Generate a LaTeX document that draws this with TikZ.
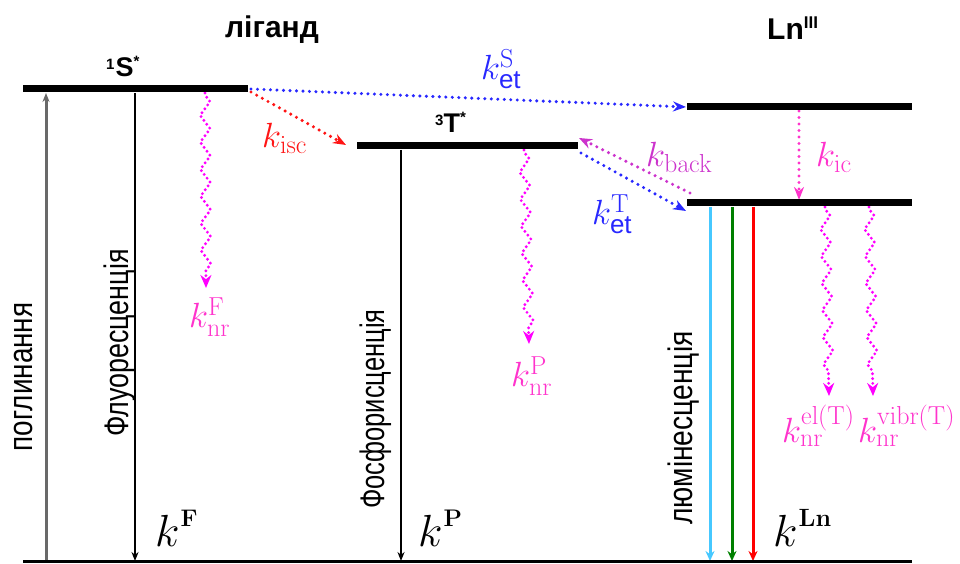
\RequirePackage{fix-cm}
\documentclass[tikz,border=0pt]{standalone}
\usepackage{amsmath}
\usepackage[no-math]{fontspec}
\setmainfont{Liberation Sans}
\usetikzlibrary{arrows.meta,decorations.pathmorphing}
\DeclareMathSizes{35}{35}{26}{18}

\definecolor{wavemag}{RGB}{255,0,255}
\definecolor{pinklab}{RGB}{255,51,204}
\definecolor{backmag}{RGB}{204,51,204}
\definecolor{etblue}{RGB}{40,40,255}
\definecolor{iscred}{RGB}{255,20,20}
\definecolor{cyanline}{RGB}{70,200,255}
\definecolor{greenline}{RGB}{0,128,0}
\definecolor{absgray}{RGB}{105,105,105}

% large rate constant with a bold upright superscript
\newcommand{\bigk}[2][24]{{\fontsize{45}{50}\selectfont$k$}\kern1pt\raisebox{20pt}{\fontsize{#1}{#1}\selectfont$\mathbf{#2}$}}
\newcommand{\smallk}[1]{\fontsize{35}{40}\selectfont$#1$}
\newcommand{\sidetext}[2]{\fontsize{34}{38}\selectfont\scalebox{#1}[1]{#2}}
\newcommand{\upmark}[2]{\raisebox{#1}{\fontsize{15}{15}\selectfont #2}}

\tikzset{
  level/.style={line width=7pt},
  ground/.style={line width=3pt},
  radiative/.style={line width=2pt,-{Stealth[length=9pt,width=7pt]}},
  emission/.style={line width=3pt,-{Stealth[length=10pt,width=9pt]}},
  transfer/.style={line width=3.4pt,line cap=round,dash pattern=on 0pt off 6.5pt,
    -{Stealth[length=13pt,width=10pt]}},
  wavy/.style={wavemag,line width=3.2pt,line cap=round,dash pattern=on 0pt off 4.8pt,
    decorate,decoration={zigzag,segment length=27pt,amplitude=5pt,pre length=2pt,post length=12pt},
    -{Stealth[length=13pt,width=11pt]}},
  klab/.style={inner sep=0pt,anchor=base west},
  title/.style={inner sep=0pt,font=\fontsize{30}{34}\selectfont\bfseries},
  state/.style={inner sep=0pt,anchor=base west,font=\fontsize{27}{30}\selectfont\bfseries},
  vlabel/.style={inner sep=0pt,rotate=90,anchor=base}
}

\begin{document}
\begin{tikzpicture}[x=1pt,y=1pt]
\useasboundingbox (0,0) rectangle (960,564);

% level end points
\coordinate (s1L) at (23,475);  \coordinate (s1R) at (248,475);
\coordinate (t1L) at (357,418); \coordinate (t1R) at (578,418);
\coordinate (luL) at (687,457); \coordinate (luR) at (912,457);
\coordinate (llL) at (687,361); \coordinate (llR) at (912,361);
\coordinate (gL) at (23,2);     \coordinate (gR) at (912,2);

% vertical radiative transitions
\coordinate (absB) at (46,2);   \coordinate (absT) at (46,471);
\coordinate (flT) at (135,471); \coordinate (flB) at (135,3);
\coordinate (phT) at (401,414); \coordinate (phB) at (401,3);
\coordinate (cyT) at (710,357); \coordinate (cyB) at (710,3);
\coordinate (grT) at (732,357); \coordinate (grB) at (732,3);
\coordinate (rdT) at (753,357); \coordinate (rdB) at (753,3);

\draw[radiative,absgray,line width=3pt] (absB) -- (absT);
\draw[radiative] (flT) -- (flB);
\draw[radiative] (phT) -- (phB);
\draw[emission,cyanline] (cyT) -- (cyB);
\draw[emission,greenline] (grT) -- (grB);
\draw[emission,red] (rdT) -- (rdB);

% energy transfer paths
\coordinate (iscA) at (251,472); \coordinate (iscB) at (346,419);
\coordinate (etsA) at (251,475); \coordinate (etsB) at (686,457);
\coordinate (bkA) at (690,371);  \coordinate (bkB) at (579,426);
\coordinate (ettA) at (581,411); \coordinate (ettB) at (686,353);
\coordinate (icA) at (799,453);  \coordinate (icB) at (799,364);

\draw[transfer,iscred] (iscA) -- (iscB);
\draw[transfer,etblue] (etsA) -- (etsB);
\draw[transfer,backmag] (bkA) -- (bkB);
\draw[transfer,etblue] (ettA) -- (ettB);
\draw[transfer,pinklab] (icA) -- (icB);

% non-radiative decays
\coordinate (nfA) at (205,471); \coordinate (nfB) at (206,276);
\coordinate (npA) at (524,414); \coordinate (npB) at (529,220);
\coordinate (neA) at (825,357); \coordinate (neB) at (829,168);
\coordinate (nvA) at (869,357); \coordinate (nvB) at (873,168);

\draw[wavy] (nfA) -- (nfB);
\draw[wavy] (npA) -- (npB);
\draw[wavy] (neA) -- (neB);
\draw[wavy] (nvA) -- (nvB);

% energy levels
\draw[level] (s1L) -- (s1R);
\draw[level] (t1L) -- (t1R);
\draw[level] (luL) -- (luR);
\draw[level] (llL) -- (llR);
\draw[ground] (gL) -- (gR);

% headings and state labels
\node[title] (lig) at (272,534) {ліганд};
\node[title,anchor=base west] (ln) at (767,524) {Ln\raisebox{11pt}{\fontsize{17}{17}\selectfont III}};
\node[state] (s1) at (106,487) {\upmark{7pt}{1}\kern1pt S\upmark{10pt}{*}};
\node[state] (t1) at (435,431) {\upmark{7pt}{3}T\upmark{10pt}{*}};

% transition names
\node[vlabel] (absl) at (32,187) {\sidetext{0.82}{поглинання}};
\node[vlabel] (fll) at (128,221) {\sidetext{0.79}{Флуоресценція}};
\node[vlabel] (phl) at (384,155) {\sidetext{0.75}{Фосфорисценція}};
\node[vlabel] (lul) at (692,136) {\sidetext{0.83}{люмінесценція}};

% rate constants
\node[klab] (kF) at (155,17) {\bigk{F}};
\node[klab] (kP) at (418,17) {\bigk{P}};
\node[klab] (kLn) at (773,17) {\bigk[25]{Ln}};

\node[klab,pinklab] (knF) at (189,236) {\smallk{k^{\mathrm{F}}_{\mathrm{nr}}}};
\node[klab,pinklab] (knP) at (511,177) {\smallk{k^{\mathrm{P}}_{\mathrm{nr}}}};
\node[klab,pinklab] (knE) at (782,121) {\smallk{k^{\mathrm{el(T)}}_{\mathrm{nr}}}};
\node[klab,pinklab] (knV) at (858,121) {\smallk{k^{\mathrm{vibr(T)}}_{\mathrm{nr}}}};
\node[klab,iscred] (kisc) at (262,416) {\smallk{k_{\mathrm{isc}}}};
\node[klab,etblue] (kets) at (481,484) {\smallk{k^{\mathrm{S}}_{\text{et}}}};
\node[klab,etblue] (kett) at (592,339) {\smallk{k^{\mathrm{T}}_{\text{et}}}};
\node[klab,backmag] (kbk) at (646,397) {\smallk{k_{\mathrm{back}}}};
\node[klab,pinklab] (kic) at (816,397) {\smallk{k_{\mathrm{ic}}}};
\end{tikzpicture}
\end{document}
